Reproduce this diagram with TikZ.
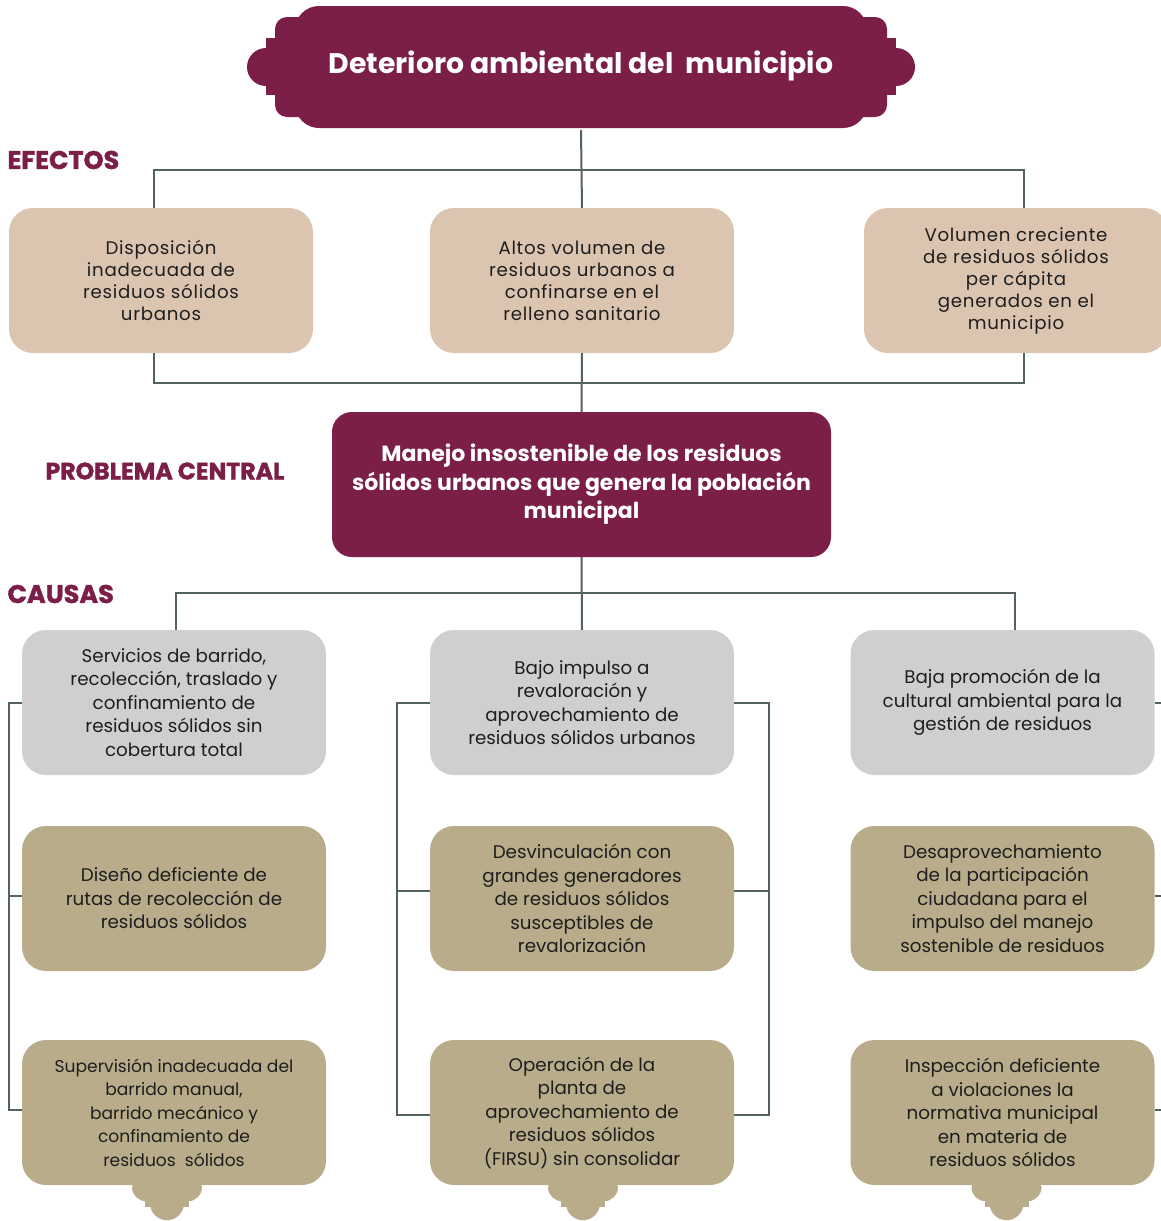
\documentclass[tikz,border=0pt]{standalone}
\usepackage{fontspec}
\setmainfont{Poppins}
\usepackage{xcolor}
\usepackage{tikz}
\usetikzlibrary{positioning}

\definecolor{vino}{RGB}{123,30,72}
\definecolor{arena}{RGB}{219,196,176}
\definecolor{gris}{RGB}{208,207,205}
\definecolor{olivo}{RGB}{184,172,138}
\definecolor{linea}{RGB}{82,98,94}
\definecolor{tinta}{RGB}{30,30,30}

\begin{document}
\begin{tikzpicture}[x=1pt, y=-1pt,
    efecto/.style={fill=arena, rounded corners=24pt, minimum width=304pt, minimum height=145pt, align=center, text=tinta, font=\fontsize{18.2}{22}\selectfont\addfontfeatures{LetterSpace=4}},
    causa/.style={fill=gris, rounded corners=24pt, minimum width=304pt, minimum height=145pt, align=center, text=tinta, font=\fontsize{18.3}{23.5}\selectfont},
    medio/.style={causa, fill=olivo},
    central/.style={fill=vino, rounded corners=20pt, minimum width=499pt, minimum height=145pt, align=center, text=white, font=\fontsize{22}{28.5}\selectfont\bfseries},
    seccion/.style={anchor=west, text=vino, font=\fontsize{25.5}{28}\selectfont\bfseries\addfontfeatures{FakeBold=1.5}},
    link/.style={draw=linea, line width=2pt},
]
\useasboundingbox (0,0) rectangle (1161,1221);
\clip (0,0) rectangle (1161,1221);

% Banner
\begin{scope}[shift={(581,67)}, vino]
\fill[rounded corners=24pt] (-286,-61) rectangle (286,61);
\fill[rounded corners=12pt] (-306,-50) rectangle (306,50);
\fill (-315,-29) rectangle (315,28);
\fill (-315,0) circle (19);
\fill (315,0) circle (19);
\end{scope}
\node[text=white, font=\fontsize{28.3}{32}\selectfont\bfseries] (top) at (581,66) {Deterioro ambiental del\ \ municipio};
\coordinate (tb) at (581,130);

% Secciones
\node[seccion] (lefe) at (4,160) {EFECTOS};
\node[seccion, font=\fontsize{23.6}{26}\selectfont\bfseries\addfontfeatures{FakeBold=1.5}] (lpro) at (42,471) {PROBLEMA CENTRAL};
\node[seccion] (lcau) at (4,594) {CAUSAS};

% Efectos
\node[efecto] (e1) at (161,280.5) {Disposición\\inadecuada de\\residuos sólidos\\urbanos};
\node[efecto] (e2) at (582,280.5) {Altos volumen de\\residuos urbanos a\\confinarse en el\\relleno sanitario};
\node[efecto] (e3) at (1016,280.5) {Volumen creciente\\de residuos sólidos\\per cápita\\generados en el\\municipio};

% Problema central
\node[central] (cp) at (581.5,484.5) {Manejo insostenible de los residuos\\sólidos urbanos que genera la población\\municipal};

% Causas
\node[causa] (c1) at (174,702.5) {Servicios de barrido,\\recolección, traslado y\\confinamiento de\\residuos sólidos sin\\cobertura total};
\node[causa] (c2) at (582,702.5) {Bajo impulso a\\revaloración y\\aprovechamiento de\\residuos sólidos urbanos};
\node[causa] (c3) at (1002.5,702.5) {Baja promoción de la\\cultural ambiental para la\\gestión de residuos};

\node[medio] (d1) at (174,898.5) {Diseño deficiente de\\rutas de recolección de\\residuos sólidos};
\node[medio] (d2) at (582,898.5) {Desvinculación con\\grandes generadores\\de residuos sólidos\\susceptibles de\\revalorización};
\node[medio] (d3) at (1002.5,898.5) {Desaprovechamiento\\de la participación\\ciudadana para el\\impulso del manejo\\sostenible de residuos};

\node[medio, font=\fontsize{17.1}{23.5}\selectfont] (g1) at (174,1112.5) {Supervisión inadecuada del\\barrido manual,\\barrido mecánico y\\confinamiento de\\residuos\ \ sólidos};
\node[medio] (g2) at (582,1112.5) {Operación de la\\planta de\\aprovechamiento de\\residuos sólidos\\(FIRSU) sin consolidar};
\node[medio] (g3) at (1002.5,1112.5) {Inspección deficiente\\a violaciones la\\normativa municipal\\en materia de\\residuos sólidos};

% Remates
\foreach \n/\dx in {g1/-7, g2/1, g3/4} {
  \begin{scope}[shift={(\n.south)}, xshift=\dx, olivo]
  \fill[rounded corners=14pt] (-35,-10) rectangle (35,16);
  \fill (-22,10) rectangle (22,22);
  \fill (0,18) circle (17);
  \end{scope}
}

% Conectores efectos
\coordinate (ej) at (581,170);
\coordinate (ek) at (581,383);
\draw[link] (tb) -- (e2.north);
\draw[link] ([xshift=-7pt]e1.north) |- (ej) -| ([xshift=8pt]e3.north);
\draw[link] ([xshift=-7pt]e1.south) |- (ek) -| ([xshift=8pt]e3.south);
\draw[link] (e2.south) -- (cp.north);

% Conectores causas
\coordinate (cj) at (581,593);
\draw[link] (cp.south) -- (c2.north);
\draw[link] ([xshift=2pt]c1.north) |- (cj) -| ([xshift=12.5pt]c3.north);

% Corchetes
\draw[link] (c1.west) -- ++(-13,0) |- ([yshift=3pt]g1.west);
\draw[link] ([yshift=3pt]d1.west) -- ++(-13,0);
\draw[link] (c2.west) -- ++(-33,0) |- ([yshift=-2pt]g2.west);
\draw[link] ([yshift=8pt]d2.west) -- ++(-33,0);
\draw[link] (c2.east) -- ++(35,0) |- ([yshift=-2pt]g2.east);
\draw[link] ([yshift=8pt]d2.east) -- ++(35,0);
\draw[link] (c3.east) -- ++(15,0) |- ([yshift=3pt]g3.east);
\draw[link] ([yshift=3pt]d3.east) -- ++(15,0);
\end{tikzpicture}
\end{document}
